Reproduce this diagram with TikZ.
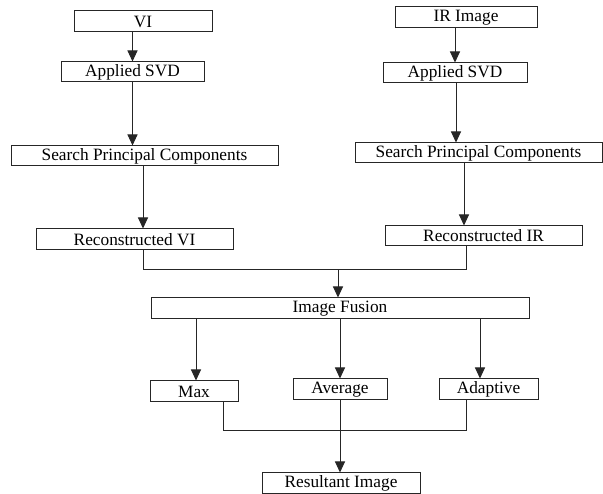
\documentclass[tikz,border=0pt]{standalone}
\usepackage{fontspec}
\setmainfont{Liberation Serif}
\usetikzlibrary{arrows.meta}

\begin{document}
\begin{tikzpicture}[x=1pt, y=-1pt,
    blk/.style={draw=black!85, line width=1pt, inner sep=0pt, minimum height=20pt,
      font=\fontsize{17.3}{19}\selectfont},
    arr/.style={draw=black!85, line width=1pt, -{Triangle[length=11pt,width=10pt]}},
    wire/.style={draw=black!85, line width=1pt}]
  \useasboundingbox (0,0) rectangle (603,494);

  % left branch
  \node[blk, minimum width=138pt, minimum height=21pt] (vi) at (143,21.5) {VI};
  \node[blk, minimum width=143pt] (svdA) at (132.5,72) {Applied SVD};
  \node[blk, minimum width=267pt] (spcA) at (144.5,156) {Search Principal Components};
  \node[blk, minimum width=197pt, minimum height=21pt] (recA) at (134.5,239.5) {Reconstructed VI};

  % right branch
  \node[blk, minimum width=142pt, minimum height=21pt] (ir) at (466,17.5) {IR Image};
  \node[blk, minimum width=144pt] (svdB) at (455,73) {Applied SVD};
  \node[blk, minimum width=247pt] (spcB) at (478.5,153) {Search Principal Components};
  \node[blk, minimum width=197pt] (recB) at (483.5,236) {Reconstructed IR};

  % fusion and rules
  \node[blk, minimum width=378pt, minimum height=21pt] (fusion) at (340,308.5) {Image Fusion};
  \node[blk, minimum width=88pt, minimum height=21pt] (max) at (194,391.5) {Max};
  \node[blk, minimum width=94pt, minimum height=21pt] (avg) at (340,389.5) {Average};
  \node[blk, minimum width=99pt, minimum height=21pt] (adapt) at (488.5,389.5) {Adaptive};
  \node[blk, minimum width=158pt] (result) at (341,483) {Resultant Image};

  \coordinate (join) at (338,270);
  \coordinate (rjoin) at (340,431);

  \draw[arr] (svdA.north |- vi.south) -- (svdA.north);
  \draw[arr] (svdA.south) -- (svdA.south |- spcA.north);
  \draw[arr] ([xshift=-1.5pt]spcA.south) -- ([xshift=-1.5pt]spcA.south |- recA.north);

  \draw[arr] (svdB.north |- ir.south) -- (svdB.north);
  \draw[arr] ([xshift=1pt]svdB.south) -- ([xshift=1pt]svdB.south |- spcB.north);
  \draw[arr] ([xshift=-14.5pt]spcB.south) -- ([xshift=-14.5pt]spcB.south |- recB.north);

  \draw[wire] ([xshift=8.5pt]recA.south) |- ([xshift=-17.5pt]recB.south |- join)
    -- ([xshift=-17.5pt]recB.south);
  \draw[arr] (join) -- (join |- fusion.north);

  \draw[arr] ([xshift=2pt]max.north |- fusion.south) -- ([xshift=2pt]max.north);
  \draw[arr] (avg.north |- fusion.south) -- (avg.north);
  \draw[arr] ([xshift=-8.5pt]adapt.north |- fusion.south) -- ([xshift=-8.5pt]adapt.north);

  \draw[wire] ([xshift=29pt]max.south) |- ([xshift=-22.5pt]adapt.south |- rjoin)
    -- ([xshift=-22.5pt]adapt.south);
  \draw[arr] (avg.south) -- (avg.south |- result.north);
\end{tikzpicture}
\end{document}
